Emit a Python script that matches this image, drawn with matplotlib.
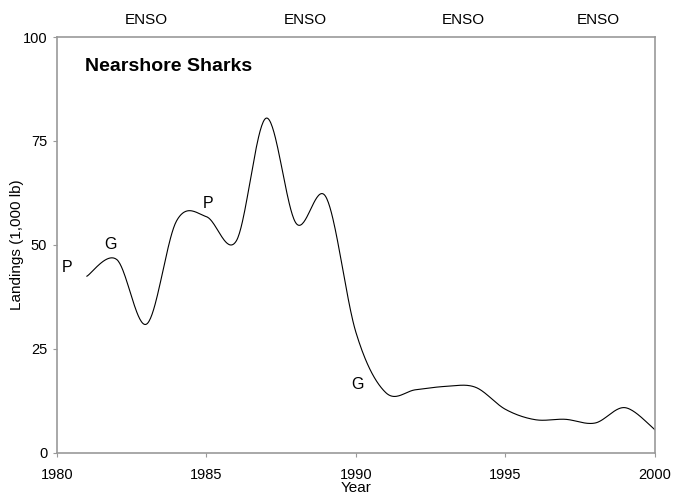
import numpy as np
import matplotlib
matplotlib.use("Agg")
import matplotlib.pyplot as plt

plt.rcParams['font.family'] = ['Liberation Sans', 'DejaVu Sans']

# Landings by year (1,000 lb)
years = [1981, 1982, 1983, 1984, 1985, 1986, 1987, 1988, 1989, 1990,
         1991, 1992, 1993, 1994, 1995, 1996, 1997, 1998, 1999, 2000]
landings = [42.5, 46.5, 31, 55.8, 56.8, 51, 80.5, 55.2, 61.5, 29,
            14.5, 15.2, 16, 15.8, 10.5, 8, 8.1, 7.2, 10.9, 5.6]

enso_years = [1983, 1988.3, 1993.6, 1998.1]
notes = [("P", 1980.35, 44.5), ("G", 1981.8, 50), ("P", 1985.05, 60), ("G", 1990.05, 16.5)]


def smooth(x, y, n=40):
    # Excel-style smoothed line: cubic Bezier through each pair of points
    x = np.asarray(x, float)
    y = np.asarray(y, float)
    px = np.concatenate([[x[0]], x, [x[-1]]])
    py = np.concatenate([[y[0]], y, [y[-1]]])
    t = np.linspace(0, 1, n)[:, None]
    xs, ys = [], []
    for i in range(1, len(x)):
        p0 = np.array([px[i], py[i]])
        p3 = np.array([px[i + 1], py[i + 1]])
        c1 = p0 + (np.array([px[i + 1], py[i + 1]]) - np.array([px[i - 1], py[i - 1]])) / 6
        c2 = p3 - (np.array([px[i + 2], py[i + 2]]) - np.array([px[i], py[i]])) / 6
        pts = ((1 - t) ** 3) * p0 + 3 * ((1 - t) ** 2) * t * c1 + 3 * (1 - t) * t ** 2 * c2 + t ** 3 * p3
        xs.append(pts[:, 0])
        ys.append(pts[:, 1])
    return np.concatenate(xs), np.concatenate(ys)


fig = plt.figure(figsize=(6.73, 4.98), dpi=100)
ax = fig.add_axes([0.0847, 0.0904, 0.8883, 0.8353])

sx, sy = smooth(years, landings)
ax.plot(sx, sy, color='black', lw=0.8)

ax.set_xlim(1980, 2000)
ax.set_ylim(0, 100)
ax.set_xticks([1980, 1985, 1990, 1995, 2000])
ax.set_yticks([0, 25, 50, 75, 100])
for s in ax.spines.values():
    s.set_color('#999999')
    s.set_linewidth(1.2)
ax.tick_params(direction='out', length=3, color='#999999', labelsize=10.5)
ax.tick_params(axis='x', pad=8)
ax.tick_params(axis='y', pad=4)

ax.set_xlabel('Year', fontsize=11, labelpad=-1)
ax.set_ylabel('Landings (1,000 lb)', fontsize=11, labelpad=-1)

ax.text(1980.93, 92.8, 'Nearshore Sharks', fontsize=14, fontweight='bold', va='center')

for label, x, y in notes:
    ax.text(x, y, label, fontsize=11.5, ha='center', va='center')

for x in enso_years:
    ax.text(x, 1.032, 'ENSO', transform=ax.get_xaxis_transform(), fontsize=11,
            ha='center', va='baseline')

fig.savefig('out.png', dpi=100)
